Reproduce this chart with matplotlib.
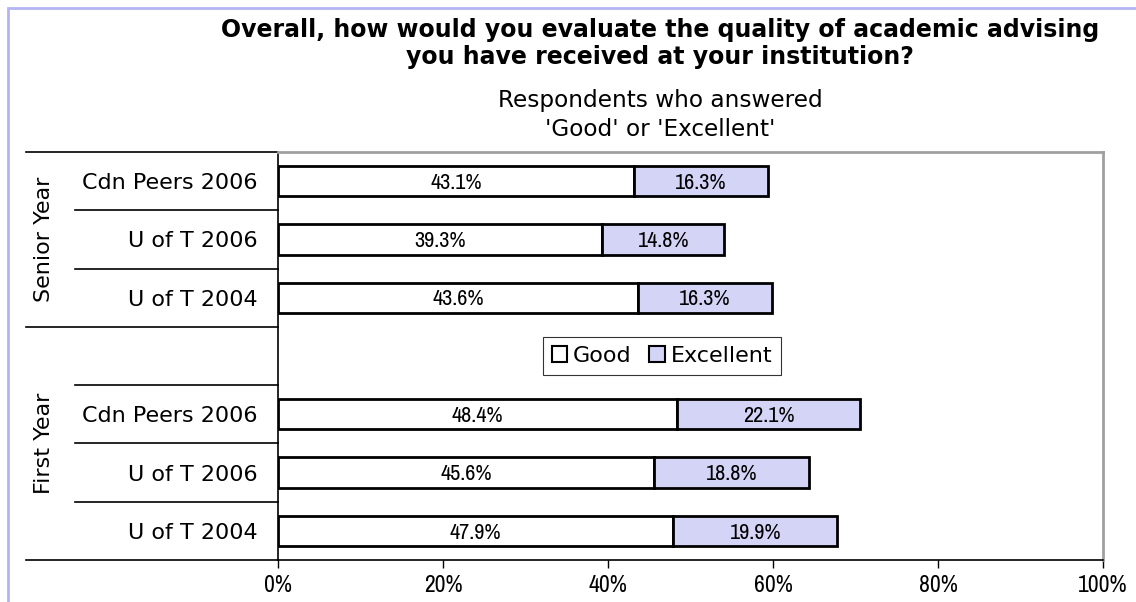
import numpy as np
import matplotlib
matplotlib.use("Agg")
import matplotlib.pyplot as plt
from matplotlib.patches import Patch, Rectangle
from matplotlib import font_manager

# survey results (percent), top to bottom; blank row separates the groups
categories = ["Cdn Peers 2006", "U of T 2006", "U of T 2004", "",
              "Cdn Peers 2006", "U of T 2006", "U of T 2004"]
good = [43.1, 39.3, 43.6, np.nan, 48.4, 45.6, 47.9]
excellent = [16.3, 14.8, 16.3, np.nan, 22.1, 18.8, 19.9]
groups = ["Senior Year", "First Year"]
group_spans = [(0, 3), (3, 7)]   # slot ranges covered by each group
xticks = [0, 20, 40, 60, 80, 100]

good_color = "white"
exc_color = "#D4D4F7"

# pick a narrow face for the numbers if one is installed
installed = {f.name for f in font_manager.fontManager.ttflist}
narrow_pref = ["Liberation Sans Narrow", "Arial Narrow", "Archivo Narrow", "PT Sans Narrow",
               "Roboto Condensed", "Pragati Narrow", "Open Sans Condensed", "Encode Sans Condensed",
               "Fira Sans Condensed", "IBM Plex Sans Condensed", "Asap Condensed"]
narrow = [n for n in narrow_pref if n in installed][:1] + ["DejaVu Sans"]

fig = plt.figure(figsize=(11.36, 6.02), dpi=100)
W, H = 1136, 602
ax = fig.add_axes([278 / W, 1 - 560 / H, (1103 - 278) / W, (560 - 152) / H])

y = np.arange(len(categories))
ax.barh(y, good, height=0.52, color=good_color, edgecolor="black", linewidth=2)
ax.barh(y, excellent, left=good, height=0.52, color=exc_color, edgecolor="black", linewidth=2)

for i in range(len(categories)):
    if np.isnan(good[i]):
        continue
    ax.text(good[i] / 2, y[i] + 0.03, f"{good[i]:.1f}%", ha="center", va="center",
            fontsize=16, family=narrow, fontweight="light")
    ax.text(good[i] + excellent[i] / 2, y[i] + 0.03, f"{excellent[i]:.1f}%", ha="center",
            va="center", fontsize=16, family=narrow, fontweight="light")

ax.set_xlim(0, 100)
ax.set_ylim(len(categories) - 0.5, -0.5)
ax.set_xticks(xticks)
ax.set_xticklabels([f"{t}%" for t in xticks], family=narrow, fontsize=17, fontweight="light")
ax.tick_params(axis="x", length=6, width=1, pad=5)
ax.set_yticks(y)
ax.set_yticklabels(categories, fontsize=16)
ax.tick_params(axis="y", length=0, pad=15)

for s in ["top", "right"]:
    ax.spines[s].set_color("#A0A0A0")
    ax.spines[s].set_linewidth(2)
for s in ["left", "bottom"]:
    ax.spines[s].set_color("black")
    ax.spines[s].set_linewidth(1.2)

# category/group separator lines to the left of the axis
trans = ax.get_yaxis_transform()
x_long = (26 - 278) / 825
x_short = (75 - 278) / 825
bounds = np.arange(len(categories) + 1) - 0.5
group_edges = set()
for a, b in group_spans:
    group_edges.add(a - 0.5)
    group_edges.add(b - 0.5)
for b in bounds:
    x0 = x_long if b in group_edges else x_short
    ax.plot([x0, 0], [b, b], color="black", lw=1.2, transform=trans, clip_on=False)

for name, (a, b) in zip(groups, group_spans):
    ax.text((44 - 278) / 825, (a + b - 1) / 2, name, rotation=90, ha="center",
            va="center", fontsize=16, transform=trans)

handles = [Patch(facecolor=good_color, edgecolor="black", linewidth=1.5, label="Good"),
           Patch(facecolor=exc_color, edgecolor="black", linewidth=1.5, label="Excellent")]
leg = fig.legend(handles=handles, loc="center", bbox_to_anchor=(662 / W, 1 - 356 / H),
                 ncol=2, fontsize=16, frameon=True, fancybox=False, handlelength=0.7,
                 handleheight=0.7, handletextpad=0.25, columnspacing=0.8,
                 borderpad=0.4)
leg.get_frame().set_edgecolor("black")
leg.get_frame().set_linewidth(0.8)

fig.text(660 / W, 1 - 30 / H, "Overall, how would you evaluate the quality of academic advising",
         ha="center", va="center", fontsize=17, fontweight="bold")
fig.text(660 / W, 1 - 57 / H, "you have received at your institution?",
         ha="center", va="center", fontsize=17, fontweight="bold")
fig.text(660 / W, 1 - 101 / H, "Respondents who answered",
         ha="center", va="center", fontsize=16.7)
fig.text(660 / W, 1 - 130 / H, "'Good' or 'Excellent'",
         ha="center", va="center", fontsize=16.7)

# light chart-area border (left and top)
fig.add_artist(Rectangle((8 / W, -0.1), 1.2, 1 - 8 / H + 0.1, transform=fig.transFigure,
                         fill=False, edgecolor="#B4B4F4", linewidth=2))

fig.savefig("out.png", dpi=100)
